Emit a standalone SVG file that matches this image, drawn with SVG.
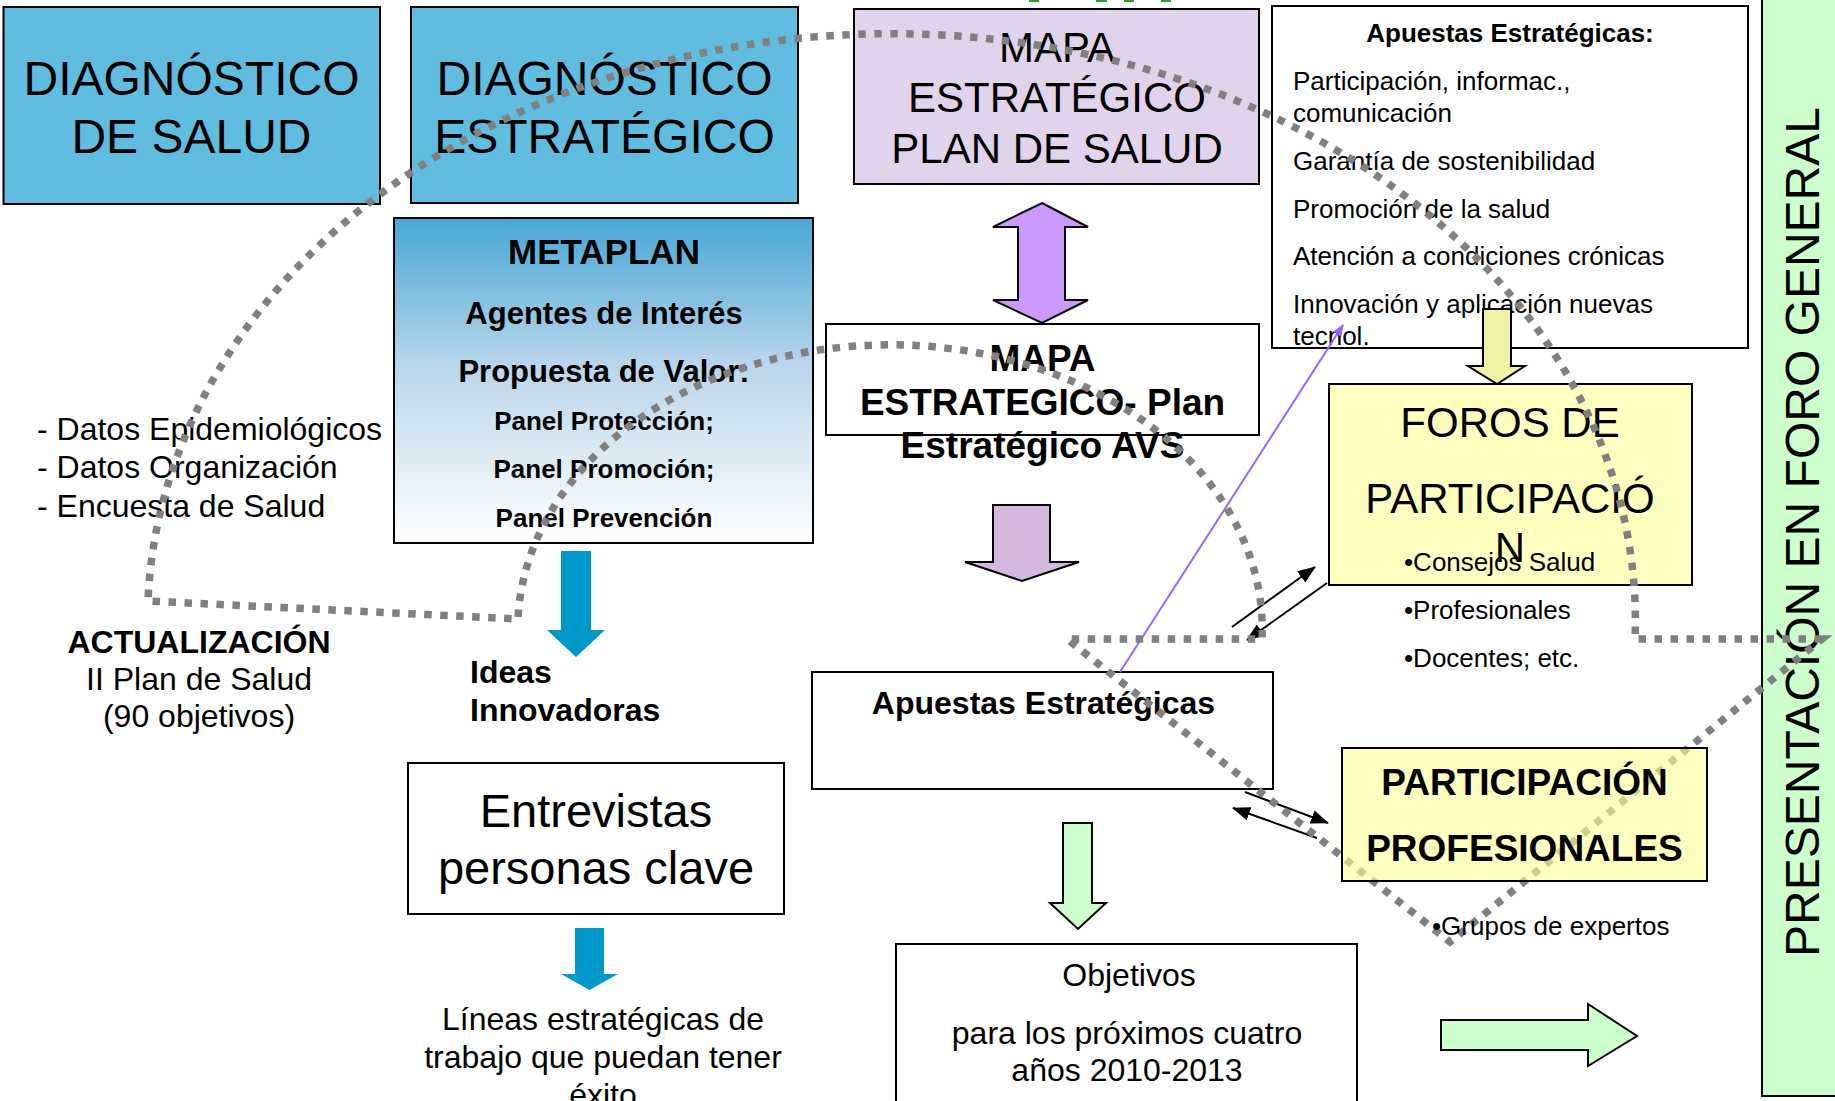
<svg xmlns="http://www.w3.org/2000/svg" width="1835" height="1101" viewBox="0 0 1835 1101">
<style>
.t{font-family:"Liberation Sans",Arial,sans-serif;fill:#000}
.b{font-weight:bold}
.c{text-anchor:middle}
.box{stroke:#000;stroke-width:2}
.dots{fill:none;stroke:#808080;stroke-width:7.5;stroke-dasharray:7.5 8.5}
.thin{fill:none;stroke:#000;stroke-width:2;marker-end:url(#ah)}
.arr{stroke:#000;stroke-width:2;stroke-linejoin:miter}
</style>
<defs>
<linearGradient id="meta" x1="0" y1="0" x2="0" y2="1">
<stop offset="0" stop-color="#46A7D6"/>
<stop offset="0.45" stop-color="#B9D6EA"/>
<stop offset="1" stop-color="#FFFFFF"/>
</linearGradient>
<marker id="ah" viewBox="0 0 18 14" refX="17" refY="7" markerWidth="18" markerHeight="14" markerUnits="userSpaceOnUse" orient="auto">
<path d="M0,0 L18,7 L0,14 z" fill="#000"/>
</marker>
<marker id="ahp" viewBox="0 0 12 10" refX="11" refY="5" markerWidth="12" markerHeight="10" markerUnits="userSpaceOnUse" orient="auto">
<path d="M0,0 L12,5 L0,10 z" fill="#9966FF"/>
</marker>
</defs>
<rect width="1835" height="1101" fill="#FFFFFF"/>

<g id="top-marks" fill="#2E9E2E">
<rect x="1029" y="0" width="10" height="2"/>
<rect x="1096" y="0" width="11" height="2"/>
<rect x="1124" y="0" width="10" height="2"/>
<rect x="1161" y="0" width="10" height="2"/>
</g>

<g id="diag-salud">
<rect class="box" x="3.5" y="7" width="376.5" height="197" fill="#61BDE0"/>
<text class="t c" x="191.5" y="95" font-size="48">DIAGNÓSTICO</text>
<text class="t c" x="191.5" y="153" font-size="48">DE SALUD</text>
</g>

<g id="diag-estrategico">
<rect class="box" x="411" y="7" width="387" height="196" fill="#61BDE0"/>
<text class="t c" x="604.5" y="95" font-size="48">DIAGNÓSTICO</text>
<text class="t c" x="604.5" y="153" font-size="48">ESTRATÉGICO</text>
</g>

<g id="mapa-plan-salud">
<rect class="box" x="854" y="9" width="405" height="175" fill="#E1D3EC"/>
<text class="t c" x="1057" y="62" font-size="42">MAPA</text>
<text class="t c" x="1057" y="112" font-size="42">ESTRATÉGICO</text>
<text class="t c" x="1057" y="163" font-size="42">PLAN DE SALUD</text>
</g>

<g id="apuestas-lista">
<rect class="box" x="1272" y="6" width="476" height="342" fill="#FFFFFF"/>
<text class="t b c" x="1510" y="42" font-size="26">Apuestas Estratégicas:</text>
<text class="t" x="1293" y="90" font-size="26">Participación, informac.,</text>
<text class="t" x="1293" y="122" font-size="26">comunicación</text>
<text class="t" x="1293" y="170" font-size="26">Garantía de sostenibilidad</text>
<text class="t" x="1293" y="218" font-size="26">Promoción de la salud</text>
<text class="t" x="1293" y="265" font-size="26">Atención a condiciones crónicas</text>
<text class="t" x="1293" y="313" font-size="26">Innovación y aplicación nuevas</text>
<text class="t" x="1293" y="345" font-size="26">tecnol.</text>
</g>

<g id="presentacion">
<rect class="box" x="1762" y="-3" width="80" height="1099" fill="#CCFFCC"/>
<text class="t c" transform="translate(1819,532) rotate(-90)" font-size="48">PRESENTACIÓN EN FORO GENERAL</text>
</g>

<g id="metaplan">
<rect class="box" x="394" y="218" width="419" height="325" fill="url(#meta)"/>
<text class="t b c" x="604" y="264" font-size="35">METAPLAN</text>
<text class="t b c" x="604" y="324" font-size="31">Agentes de Interés</text>
<text class="t b c" x="604" y="382" font-size="31">Propuesta de Valor:</text>
<text class="t b c" x="604" y="430" font-size="26">Panel Protección;</text>
<text class="t b c" x="604" y="478" font-size="26">Panel Promoción;</text>
<text class="t b c" x="604" y="527" font-size="26">Panel Prevención</text>
</g>

<g id="datos">
<text class="t" x="37" y="440" font-size="32">- Datos Epidemiológicos</text>
<text class="t" x="37" y="478" font-size="32">- Datos Organización</text>
<text class="t" x="37" y="517" font-size="32">- Encuesta de Salud</text>
</g>

<g id="actualizacion">
<text class="t b c" x="199" y="653" font-size="32">ACTUALIZACIÓN</text>
<text class="t c" x="199" y="690" font-size="32">II Plan de Salud</text>
<text class="t c" x="199" y="727" font-size="32">(90 objetivos)</text>
</g>

<g id="ideas">
<text class="t b" x="470" y="683" font-size="32">Ideas</text>
<text class="t b" x="470" y="721" font-size="32">Innovadoras</text>
</g>

<g id="entrevistas">
<rect class="box" x="408" y="763" width="376" height="151" fill="#FFFFFF"/>
<text class="t c" x="596" y="827" font-size="47">Entrevistas</text>
<text class="t c" x="596" y="884" font-size="47">personas clave</text>
</g>

<g id="lineas">
<text class="t c" x="603" y="1030" font-size="32">Líneas estratégicas de</text>
<text class="t c" x="603" y="1068" font-size="32">trabajo que puedan tener</text>
<text class="t c" x="603" y="1106" font-size="32">éxito</text>
</g>

<g id="mapa-avs">
<rect class="box" x="826" y="324" width="433" height="111" fill="#FFFFFF"/>
<text class="t b c" x="1042.5" y="371" font-size="37">MAPA</text>
<text class="t b c" x="1042.5" y="415" font-size="37">ESTRATEGICO- Plan</text>
<text class="t b c" x="1042.5" y="458" font-size="37">Estratégico AVS</text>
</g>

<g id="apuestas">
<rect class="box" x="812" y="672" width="461" height="117" fill="#FFFFFF"/>
<text class="t b c" x="1043.5" y="714" font-size="32">Apuestas Estratégicas</text>
</g>

<g id="objetivos">
<rect class="box" x="896" y="944" width="461" height="160" fill="#FFFFFF"/>
<text class="t c" x="1129" y="986" font-size="32">Objetivos</text>
<text class="t c" x="1127" y="1044" font-size="32">para los próximos cuatro</text>
<text class="t c" x="1127" y="1081" font-size="32">años 2010-2013</text>
</g>

<g id="foros">
<rect class="box" x="1329" y="384" width="363" height="201" fill="#FFFFC0"/>
<text class="t c" x="1510" y="437" font-size="42">FOROS DE</text>
<text class="t c" x="1510" y="513" font-size="42">PARTICIPACIÓ</text>
<text class="t c" x="1510" y="562" font-size="42">N</text>
<text class="t" x="1404" y="571" font-size="26">•Consejos Salud</text>
<text class="t" x="1404" y="619" font-size="26">•Profesionales</text>
<text class="t" x="1404" y="667" font-size="26">•Docentes; etc.</text>
</g>

<g id="connectors">
<path class="arr" d="M1042,203 L1088,227 L1065,227 L1065,300 L1088,300 L1042,323 L993,300 L1018,300 L1018,227 L993,227 Z" fill="#CC99FF"/>
<path class="arr" d="M993,505 L1050,505 L1050,562 L1079,562 L1022,581 L965,562 L993,562 Z" fill="#D4B8E0" stroke-width="1.5"/>
<path d="M561,551 L591,551 L591,630 L605,630 L576,657 L547,630 L561,630 Z" fill="#0099CC"/>
<path d="M575,928 L604,928 L604,974 L618,974 L589.5,990 L561,974 L575,974 Z" fill="#0099CC"/>
<path class="arr" d="M1063,823 L1092,823 L1092,903 L1106,903 L1078,929 L1050,903 L1063,903 Z" fill="#CCFFCC" stroke-width="1.5"/>
<path class="arr" d="M1483,309 L1511,309 L1511,366 L1525,366 L1497,384 L1468,366 L1483,366 Z" fill="#F2F2A6"/>
<path class="arr" d="M1441,1020 L1588,1020 L1588,1004 L1637,1036 L1588,1066 L1588,1050 L1441,1050 Z" fill="#CCFFCC"/>
<line class="thin" x1="1232" y1="627" x2="1315" y2="567"/>
<line class="thin" x1="1327" y1="583" x2="1247" y2="640"/>
<line class="thin" x1="1245" y1="792" x2="1328" y2="823"/>
<line class="thin" x1="1317" y1="838" x2="1233" y2="808"/>
<line x1="1120" y1="672" x2="1343" y2="325" stroke="#9966FF" stroke-width="2" marker-end="url(#ahp)"/>
</g>

<g id="dotted-arcs">
<path class="dots" d="M1822,639 L1635,639 A742,585 0 0 0 148,601 L518,619 A372,284 0 0 1 1262,639 L1067,639 L1450,942 Z"/>
</g>

<g id="participacion">
<rect class="box" x="1342" y="748" width="365" height="133" fill="#FFFF96" fill-opacity="0.6"/>
<text class="t b c" x="1524.5" y="795" font-size="37">PARTICIPACIÓN</text>
<text class="t b c" x="1524.5" y="861" font-size="37">PROFESIONALES</text>
<text class="t" x="1432" y="935" font-size="26">•Grupos de expertos</text>
</g>
</svg>
